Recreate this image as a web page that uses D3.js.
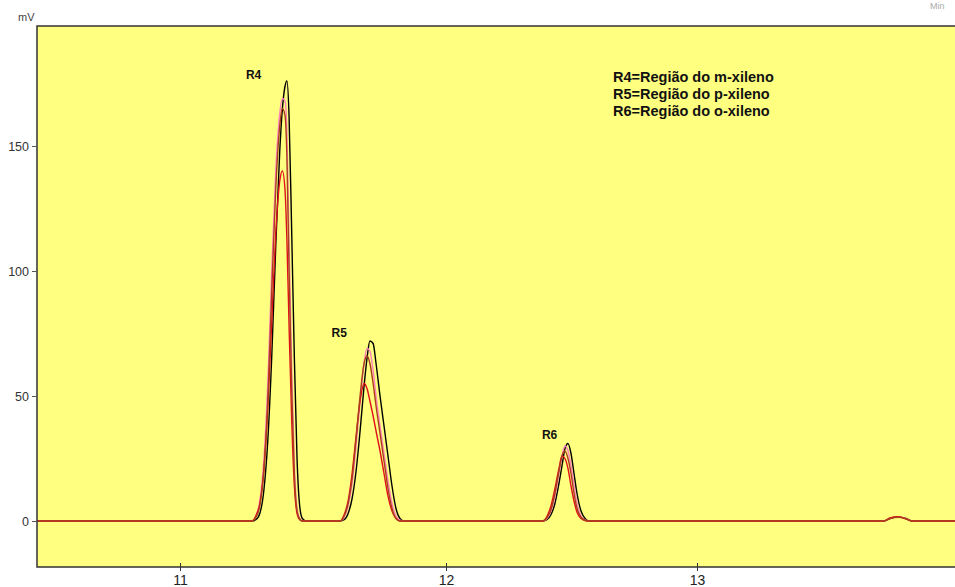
<!DOCTYPE html>
<html>
  <head>
    <meta charset="utf-8" />
    <title>Cromatograma xilenos</title>
    <style>
      body { margin: 0; background: #fff; }
      text { font-family: "Liberation Sans", Arial, sans-serif; }
    </style>
  </head>
  <body>
    <script src="https://cdn.jsdelivr.net/npm/d3@7/dist/d3.min.js"></script>
    <script>
      // axis ticks
      const xTicks = [11, 12, 13];
      const yTicks = [0, 50, 100, 150];

      // time grid (min) for each region of the run
      const r4Times = [11.27, 11.285, 11.3, 11.315, 11.33, 11.345, 11.36, 11.375, 11.385, 11.395, 11.402, 11.41, 11.42, 11.43, 11.44, 11.45, 11.46, 11.475];
      const r5Times = [11.602, 11.617, 11.632, 11.647, 11.662, 11.677, 11.692, 11.703, 11.714, 11.726, 11.737, 11.752, 11.767, 11.782, 11.797, 11.812, 11.827, 11.842];
      const r6Times = [12.386, 12.402, 12.418, 12.434, 12.45, 12.462, 12.474, 12.486, 12.498, 12.51, 12.522, 12.538, 12.554, 12.57];
      const bumpTimes = [13.745, 13.769, 13.801, 13.833, 13.857];
      const runStart = 10.46;
      const runEnd = 14.03;

      // signal (mV) of each injection, read at the grid times
      const blackR4 = [0, 0.5, 3, 12, 32, 66, 110, 148, 165, 174, 176, 162, 115, 65, 25, 6, 1, 0];
      const blackR5 = [0, 0.5, 3, 9, 20, 36, 54, 65, 72, 71, 63, 50, 38, 26, 14, 5, 1, 0];
      const blackR6 = [0, 0.5, 2.5, 7, 15, 22, 29, 31, 27, 19, 11, 4, 1, 0];
      const blackBump = [0, 1, 1.6, 1, 0];

      const pinkR4 = [0, 2, 8, 24, 55, 100, 140, 163, 169, 168, 155, 110, 60, 22, 5, 1, 0, 0];
      const pinkR5 = [0, 1.5, 6, 15, 30, 48, 63, 69, 68, 60, 50, 38, 27, 16, 7, 2, 0.3, 0];
      const pinkR6 = [0, 1, 4, 10, 19, 26, 30, 28, 22, 14, 7, 2, 0.4, 0];
      const pinkBump = [0, 1.1, 1.7, 0.9, 0];

      const redR4 = [0, 2, 7, 20, 45, 80, 115, 136, 140, 132, 112, 78, 40, 14, 3, 0.5, 0, 0];
      const redR5 = [0, 2.5, 8, 19, 34, 48, 55, 53, 48, 42, 36, 28, 19, 10, 4, 1, 0, 0];
      const redR6 = [0, 1.8, 6, 13, 21, 26, 25, 21, 14, 8, 3.5, 1, 0.2, 0];
      const redBump = [0, 1.2, 1.7, 0.8, 0];

      const brownR4 = [0, 1.5, 6, 20, 48, 92, 133, 158, 165, 162, 145, 100, 52, 18, 4, 0.8, 0, 0];
      const brownR5 = [0, 2, 7, 17, 33, 50, 63, 66, 63, 55, 46, 35, 24, 13, 5, 1, 0, 0];
      const brownR6 = [0, 1.3, 4.5, 11, 20, 26, 28, 25, 19, 11, 5, 1.5, 0.3, 0];
      const brownBump = [0, 1, 1.5, 0.9, 0];

      const traceColors = ["#000000", "#ff7fbf", "#e0101a", "#a8401a"];

      const peakLabels = [
        { name: "R4", t: 11.248, v: 176 },
        { name: "R5", t: 11.57, v: 73 },
        { name: "R6", t: 12.382, v: 32 }
      ];
      const legendLines = [
        "R4=Região do m-xileno",
        "R5=Região do p-xileno",
        "R6=Região do o-xileno"
      ];

      const width = 955;
      const height = 587;
      const plotLeft = 37, plotTop = 26, plotBottom = 567;

      const times = [runStart, ...r4Times, ...r5Times, ...r6Times, ...bumpTimes, runEnd];
      const traces = [
        [blackR4, blackR5, blackR6, blackBump],
        [pinkR4, pinkR5, pinkR6, pinkBump],
        [redR4, redR5, redR6, redBump],
        [brownR4, brownR5, brownR6, brownBump]
      ].map(function(parts, i) {
        const vals = [0].concat(...parts, [0]);
        return { color: traceColors[i], points: times.map((t, j) => [t, vals[j]]) };
      });

      const x = d3.scaleLinear().domain([11, 12, 13]).range([180, 446, 697]);
      const y = d3.scaleLinear().domain([-18.4, 198]).range([plotBottom, plotTop]);

      const svg = d3.select("body").append("svg")
        .attr("width", width)
        .attr("height", height);

      svg.append("defs").append("clipPath").attr("id", "plot")
        .append("rect")
        .attr("x", plotLeft).attr("y", plotTop)
        .attr("width", width - plotLeft).attr("height", plotBottom - plotTop);

      svg.append("rect")
        .attr("x", plotLeft).attr("y", plotTop)
        .attr("width", width - plotLeft).attr("height", plotBottom - plotTop)
        .attr("fill", "#ffff80");

      const line = d3.line()
        .x(d => x(d[0]))
        .y(d => y(d[1]))
        .curve(d3.curveMonotoneX);

      svg.append("g").attr("clip-path", "url(#plot)")
        .selectAll("path")
        .data(traces)
        .enter().append("path")
        .attr("d", d => line(d.points))
        .attr("fill", "none")
        .attr("stroke", d => d.color)
        .attr("stroke-width", 1.4);

      // frame
      svg.append("path")
        .attr("d", `M${width},${plotTop}H${plotLeft}V${plotBottom}H${width}`)
        .attr("fill", "none")
        .attr("stroke", "#333")
        .attr("stroke-width", 1.5);

      const yAxis = svg.append("g")
        .attr("transform", `translate(${plotLeft},0)`)
        .call(d3.axisLeft(y).tickValues(yTicks).tickSize(5).tickPadding(3));
      yAxis.select(".domain").remove();
      yAxis.selectAll("line").attr("stroke", "#555");
      yAxis.selectAll("text")
        .attr("font-size", 12.5)
        .attr("fill", "#333")
        .style("font-family", "'Liberation Sans', Arial, sans-serif");

      const xAxis = svg.append("g")
        .attr("transform", `translate(0,${plotBottom})`)
        .call(d3.axisBottom(x).tickValues(xTicks).tickFormat(d3.format("d")).tickSizeInner(-5).tickSizeOuter(0).tickPadding(6));
      xAxis.select(".domain").remove();
      xAxis.selectAll("line").attr("stroke", "#333").attr("y2", 4).attr("y1", -4);
      xAxis.selectAll("text")
        .attr("y", 8)
        .attr("dy", "0.71em")
        .attr("font-size", 14)
        .attr("fill", "#222")
        .style("font-family", "'Liberation Sans', Arial, sans-serif");

      svg.append("text")
        .attr("x", 18).attr("y", 21)
        .attr("font-size", 11)
        .attr("fill", "#444")
        .text("mV");

      svg.append("text")
        .attr("x", 930).attr("y", 9)
        .attr("font-size", 9)
        .attr("fill", "#aaa")
        .text("Min");

      svg.selectAll(".peak")
        .data(peakLabels)
        .enter().append("text")
        .attr("class", "peak")
        .attr("x", d => x(d.t))
        .attr("y", d => y(d.v) - 2)
        .attr("font-size", 12)
        .attr("font-weight", "bold")
        .attr("fill", "#111")
        .text(d => d.name);

      svg.selectAll(".legend")
        .data(legendLines)
        .enter().append("text")
        .attr("class", "legend")
        .attr("x", 613)
        .attr("y", (d, i) => 82 + i * 17)
        .attr("font-size", 14.5)
        .attr("font-weight", "bold")
        .attr("fill", "#111")
        .text(d => d);
    </script>
  </body>
</html>
